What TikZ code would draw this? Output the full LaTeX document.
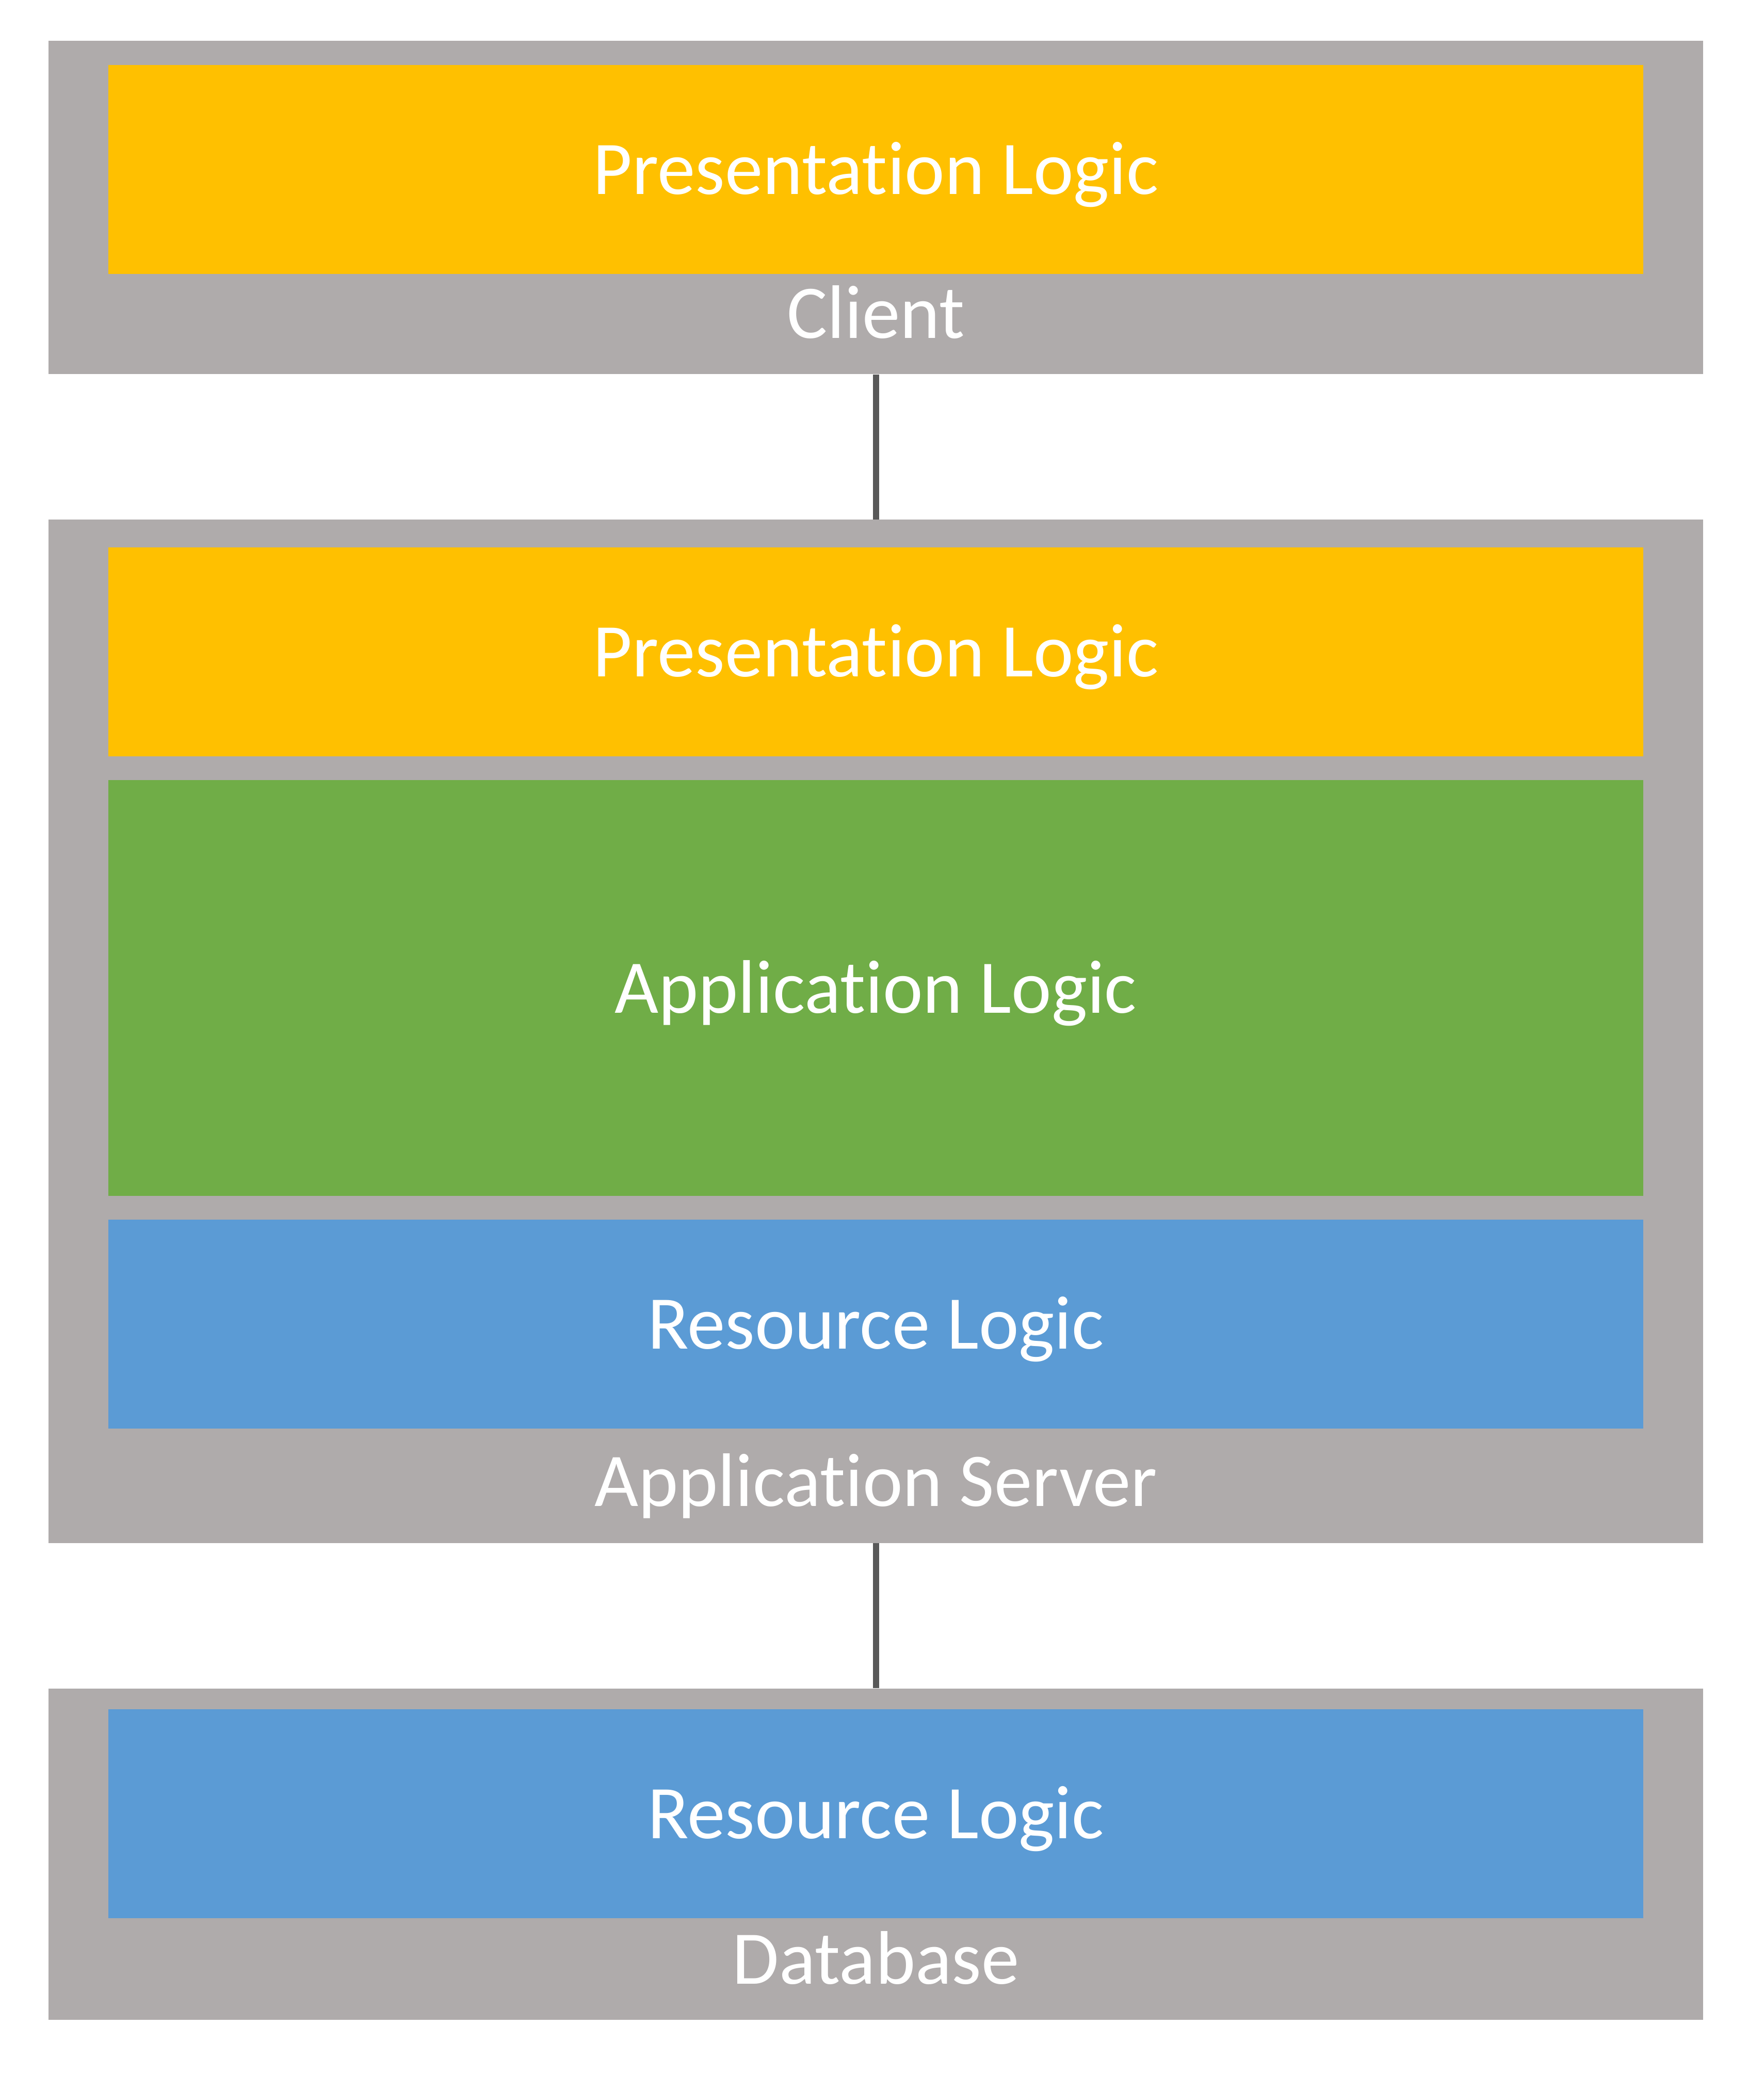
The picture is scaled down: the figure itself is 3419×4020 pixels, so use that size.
\documentclass[tikz,border=0pt]{standalone}
\usepackage{fontspec}
\setmainfont{Carlito}[Ligatures={NoCommon,NoRare,NoDiscretionary}]
\usepackage{tikz}
\definecolor{tiergray}{HTML}{AFABAB}
\definecolor{presyellow}{HTML}{FFC000}
\definecolor{appgreen}{HTML}{70AD47}
\definecolor{resblue}{HTML}{5B9BD5}
\definecolor{linkgray}{HTML}{595959}
\newcommand\tiertext[1]{\fontsize{41.8}{50}\selectfont #1}

\begin{document}
\begin{tikzpicture}[x=0.01cm,y=-0.01cm,
  tier/.style={fill=tiergray,minimum width=32.05cm,inner sep=0},
  layer/.style={minimum width=29.73cm,minimum height=4.05cm,inner sep=0,
    text=white,text height=0.96cm,text depth=0cm},
  caption/.style={anchor=base,text=white,inner sep=0},
  link/.style={draw=linkgray,line width=0.12cm}]
\useasboundingbox (0,0) rectangle (3419,4020);
% tiers
\node[tier,minimum height=6.46cm] (client) at (1697.5,402) {};
\node[tier,minimum height=19.82cm] (appserver) at (1697.5,1999) {};
\node[tier,minimum height=6.42cm] (database) at (1697.5,3594) {};
% layers
\foreach \n/\y/\h/\c/\t in {cpres/328.5/4.05cm/presyellow/Presentation Logic,
  apres/1263.5/4.05cm/presyellow/Presentation Logic,
  alogic/1915/8.06cm/appgreen/Application Logic,
  ares/2566.5/4.05cm/resblue/Resource Logic,
  dres/3515.5/4.05cm/resblue/Resource Logic}
 \node[layer,fill=\c,minimum height=\h] (\n) at (1697.5,\y) {\tiertext{\t}};
\node[caption] at ([yshift=0.7cm]client.south) {\tiertext{Client}};
\node[caption] at ([yshift=0.72cm]appserver.south) {\tiertext{Application Server}};
\node[caption] at ([yshift=0.7cm]database.south) {\tiertext{Database}};
\draw[link] (client) -- (appserver);
\draw[link] (appserver) -- (database);
\end{tikzpicture}
\end{document}
